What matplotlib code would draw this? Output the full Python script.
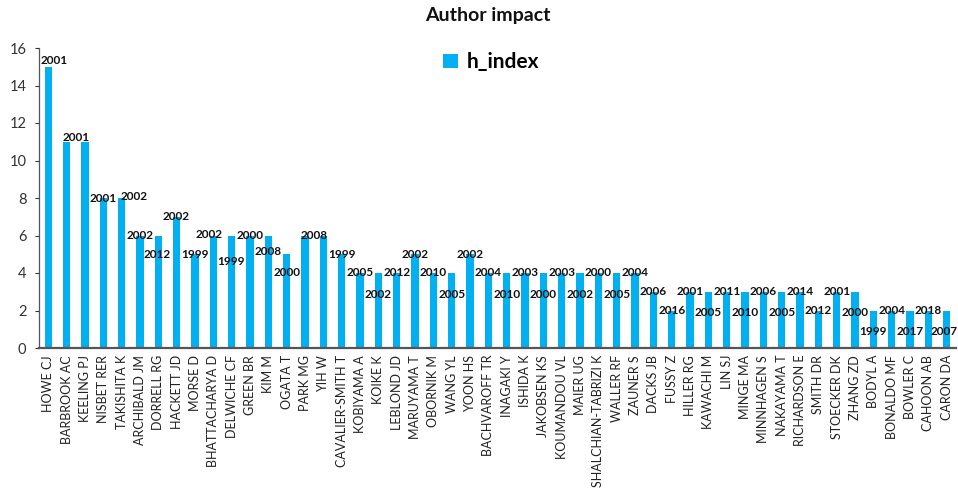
import matplotlib
matplotlib.use("Agg")
import numpy as np
import matplotlib.pyplot as plt
from matplotlib.transforms import offset_copy

plt.rcParams['font.family'] = ['Lato', 'DejaVu Sans']

# authors, their h-index and the year shown above each bar
authors = [
    "HOWE CJ", "BARBROOK AC", "KEELING PJ", "NISBET RER", "TAKISHITA K",
    "ARCHIBALD JM", "DORRELL RG", "HACKETT JD", "MORSE D", "BHATTACHARYA D",
    "DELWICHE CF", "GREEN BR", "KIM M", "OGATA T", "PARK MG",
    "YIH W", "CAVALIER-SMITH T", "KOBIYAMA A", "KOIKE K", "LEBLOND JD",
    "MARUYAMA T", "OBORNIK M", "WANG YL", "YOON HS", "BACHVAROFF TR",
    "INAGAKI Y", "ISHIDA K", "JAKOBSEN KS", "KOUMANDOU VL", "MAIER UG",
    "SHALCHIAN-TABRIZI K", "WALLER RF", "ZAUNER S", "DACKS JB", "FUSSY Z",
    "HILLER RG", "KAWACHI M", "LIN SJ", "MINGE MA", "MINNHAGEN S",
    "NAKAYAMA T", "RICHARDSON E", "SMITH DR", "STOECKER DK", "ZHANG ZD",
    "BODYL A", "BONALDO MF", "BOWLER C", "CAHOON AB", "CARON DA",
]
h_index = [
    15, 11, 11, 8, 8, 6, 6, 7, 5, 6,
    6, 6, 6, 5, 6, 6, 5, 4, 4, 4,
    5, 4, 4, 5, 4, 4, 4, 4, 4, 4,
    4, 4, 4, 3, 2, 3, 3, 3, 3, 3,
    3, 3, 2, 3, 3, 2, 2, 2, 2, 2,
]
years = [
    2001, 2001, 2001, 2001, 2002, 2002, 2012, 2002, 1999, 2002,
    1999, 2000, 2008, 2000, 2008, 2008, 1999, 2005, 2002, 2012,
    2002, 2010, 2005, 2002, 2004, 2010, 2003, 2000, 2003, 2002,
    2000, 2005, 2004, 2006, 2016, 2001, 2005, 2011, 2010, 2006,
    2005, 2014, 2012, 2001, 2000, 1999, 2004, 2017, 2018, 2007,
]

ax_left, ax_width = 39, 917
half_step = ax_width / len(authors) / 2

# label nudges in pixels (dx, dy), so neighbouring years don't collide
label_offsets = {
    0: (6, 6), 1: (half_step, 4), 2: (-half_step, 4), 4: (13, 2),
    6: (-1, -19), 9: (-4, 1), 10: (-1, -26), 12: (0, -16), 13: (0, -18),
    14: (half_step, 0), 15: (-half_step, 0),
}
dropped = [18, 22, 25, 27, 29, 31, 36, 38, 40, 44, 45, 47]
for i in dropped:
    label_offsets[i] = (0, -21)
label_offsets[49] = (-3, -21)

blue = "#00B0F0"

fig = plt.figure(figsize=(9.58, 4.88), dpi=100)
ax = fig.add_axes([ax_left / 958, 140 / 488, ax_width / 958, 300 / 488])

x = np.arange(len(authors))
bars = ax.bar(x, h_index, width=0.4, color=blue, label="h_index", zorder=2)

placed = set()
for i, (xi, h, yr) in enumerate(zip(x, h_index, years)):
    dx, dy = label_offsets.get(i, (0, 0))
    # pairs of equal bars share one spot; draw that year only once
    key = (round(xi + dx / (2 * half_step), 2), h, dy, yr)
    if key in placed:
        continue
    placed.add(key)
    tr = offset_copy(ax.transData, fig=fig, x=dx, y=dy, units='dots')
    ax.text(xi, h, str(yr), transform=tr, ha='center', va='center',
            fontsize=8.5, fontweight='bold', color='#111111', zorder=3)

ax.set_xlim(-0.5, len(authors) - 0.5)
ax.set_ylim(0, 16)
ax.set_yticks(range(0, 17, 2))
ax.tick_params(axis='y', labelsize=10.5, colors='#333333', length=3, width=0.8, pad=6)
ax.set_xticks(x)
ax.set_xticklabels(authors, rotation=90, fontsize=9, color='#222222')
ax.tick_params(axis='x', length=0, pad=5)

for side in ['top', 'right']:
    ax.spines[side].set_visible(False)
ax.spines['left'].set_color('#555555')
ax.spines['left'].set_linewidth(0.9)
ax.spines['bottom'].set_color('#555555')
ax.spines['bottom'].set_linewidth(1.6)

fig.text(0.509, 0.969, "Author impact", ha='center', va='center',
         fontsize=14, fontweight='bold', color='#111111')

leg = ax.legend(loc='center', bbox_to_anchor=(0.493, 0.953), frameon=False,
                handlelength=0.7, handleheight=0.7, handletextpad=0.4,
                prop={'size': 15, 'weight': 'bold'})

fig.savefig("out.png", dpi=100)
